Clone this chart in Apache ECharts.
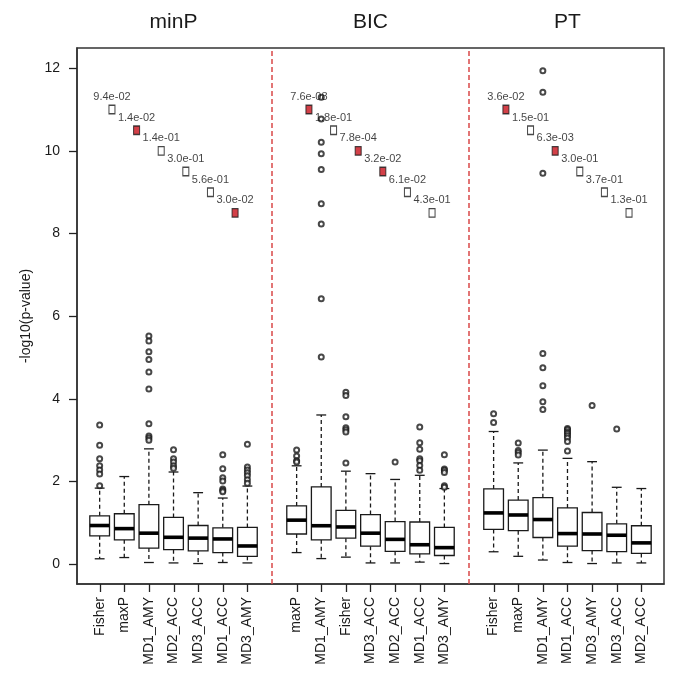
<!DOCTYPE html>
<html>
<head>
<meta charset="utf-8">
<script src="https://cdn.jsdelivr.net/npm/echarts@6/dist/echarts.min.js"></script>
<style>
html,body{margin:0;padding:0;background:#fff;}
#chart{width:685px;height:687px;}
</style>
</head>
<body>
<div id="chart"></div>
<script>
// ---- data ----
const panelTitles = ["minP", "BIC", "PT"];

const minP_labels = ["Fisher", "maxP", "MD1_AMY", "MD2_ACC", "MD3_ACC", "MD1_ACC", "MD3_AMY"];
// [lowerWhisker, Q1, median, Q3, upperWhisker]
const minP_stats = [
  [0.13, 0.685, 0.935, 1.17, 1.84],
  [0.16, 0.59, 0.86, 1.22, 2.12],
  [0.04, 0.39, 0.75, 1.44, 2.79],
  [0.03, 0.35, 0.65, 1.13, 2.23],
  [0.015, 0.32, 0.63, 0.935, 1.73],
  [0.04, 0.28, 0.61, 0.88, 1.60],
  [0.03, 0.19, 0.44, 0.89, 1.89]
];
const minP_outliers = [
  [3.37, 2.88, 2.55, 2.38, 2.28, 2.18, 1.90],
  [],
  [5.52, 5.40, 5.14, 4.95, 4.65, 4.24, 3.40, 3.10, 3.05, 3.00],
  [2.77, 2.55, 2.47, 2.38, 2.32],
  [],
  [2.65, 2.31, 2.09, 2.01, 1.82, 1.78, 1.75],
  [2.90, 2.35, 2.28, 2.21, 2.14, 2.04, 1.96]
];
const minP_pvals = ["9.4e-02", "1.4e-02", "1.4e-01", "3.0e-01", "5.6e-01", "3.0e-02"];

const BIC_labels = ["maxP", "MD1_AMY", "Fisher", "MD3_ACC", "MD2_ACC", "MD1_ACC", "MD3_AMY"];
const BIC_stats = [
  [0.28, 0.73, 1.065, 1.41, 2.38],
  [0.135, 0.59, 0.93, 1.87, 3.61],
  [0.17, 0.63, 0.90, 1.30, 2.25],
  [0.03, 0.435, 0.75, 1.20, 2.19],
  [0.03, 0.31, 0.60, 1.03, 2.05],
  [0.05, 0.25, 0.47, 1.02, 2.15],
  [0.015, 0.21, 0.40, 0.89, 1.83]
];
const BIC_outliers = [
  [2.76, 2.62, 2.50, 2.47],
  [11.3, 10.77, 10.21, 9.93, 9.55, 8.72, 8.23, 6.42, 5.01],
  [4.16, 4.08, 3.57, 3.30, 3.25, 3.20, 2.45],
  [],
  [2.47],
  [3.32, 2.94, 2.78, 2.55, 2.50, 2.39, 2.27],
  [2.65, 2.30, 2.27, 2.22, 1.90, 1.86]
];
const BIC_pvals = ["7.6e-08", "1.8e-01", "7.8e-04", "3.2e-02", "6.1e-02", "4.3e-01"];

const PT_labels = ["Fisher", "maxP", "MD1_AMY", "MD1_ACC", "MD3_AMY", "MD3_ACC", "MD2_ACC"];
const PT_stats = [
  [0.30, 0.84, 1.24, 1.82, 3.21],
  [0.19, 0.81, 1.19, 1.55, 2.45],
  [0.10, 0.645, 1.08, 1.61, 2.76],
  [0.04, 0.435, 0.74, 1.36, 2.56],
  [0.015, 0.33, 0.73, 1.25, 2.48],
  [0.03, 0.305, 0.70, 0.975, 1.86],
  [0.03, 0.26, 0.515, 0.93, 1.83]
];
const PT_outliers = [
  [3.64, 3.43],
  [2.93, 2.75, 2.70, 2.64],
  [11.94, 11.42, 9.46, 5.10, 4.75, 4.32, 3.93, 3.74],
  [3.28, 3.25, 3.20, 3.16, 3.11, 3.05, 2.97, 2.74],
  [3.84],
  [3.27],
  []
];
const PT_pvals = ["3.6e-02", "1.5e-01", "6.3e-03", "3.0e-01", "3.7e-01", "1.3e-01"];

// heights at which the comparison markers are drawn
const markerY = [11, 10.5, 10, 9.5, 9, 8.5];
const yTicks = [0, 2, 4, 6, 8, 10, 12];

// ---- build ----
const Y_MIN = -0.48, Y_MAX = 12.49;
const panels = [
  {labels: minP_labels, stats: minP_stats, outliers: minP_outliers, pvals: minP_pvals},
  {labels: BIC_labels, stats: BIC_stats, outliers: BIC_outliers, pvals: BIC_pvals},
  {labels: PT_labels, stats: PT_stats, outliers: PT_outliers, pvals: PT_pvals}
];
const FONT = "'Liberation Sans', Arial, Helvetica, sans-serif";
const INK = '#1a1a1a';

const boxData = [], outlierData = [], markerData = [], tickPos = [], labelMap = {};
const separators = [];
const groupCenters = [];
panels.forEach((p, g) => {
  const base = g * 8;
  p.labels.forEach((lab, i) => {
    const x = base + i + 1;
    tickPos.push(x);
    labelMap[x] = lab;
    boxData.push([x].concat(p.stats[i]));
    p.outliers[i].forEach(v => outlierData.push([x, v]));
  });
  p.pvals.forEach((pv, i) => {
    const sig = parseFloat(pv) < 0.05;
    markerData.push({
      value: [base + i + 1.5, markerY[i]],
      name: pv,
      itemStyle: {color: sig ? '#c8101a' : '#ffffff'}
    });
  });
  groupCenters.push(base + 4);
  if (g > 0) separators.push({xAxis: base});
});

function renderBox(params, api) {
  const x = api.value(0);
  const lo = api.coord([x, api.value(1)]);
  const q1 = api.coord([x, api.value(2)]);
  const md = api.coord([x, api.value(3)]);
  const q3 = api.coord([x, api.value(4)]);
  const hi = api.coord([x, api.value(5)]);
  const w = api.size([0.8, 0])[0];
  const hw = w / 2, cw = w / 4;
  const cx = lo[0];
  const solid = {stroke: INK, lineWidth: 1.3};
  const dashed = {stroke: INK, lineWidth: 1.3, lineDash: [4, 3]};
  return {
    type: 'group',
    children: [
      {type: 'line', shape: {x1: cx, y1: q3[1], x2: cx, y2: hi[1]}, style: dashed},
      {type: 'line', shape: {x1: cx, y1: q1[1], x2: cx, y2: lo[1]}, style: dashed},
      {type: 'line', shape: {x1: cx - cw, y1: hi[1], x2: cx + cw, y2: hi[1]}, style: solid},
      {type: 'line', shape: {x1: cx - cw, y1: lo[1], x2: cx + cw, y2: lo[1]}, style: solid},
      {type: 'rect', shape: {x: cx - hw, y: q3[1], width: w, height: q1[1] - q3[1]},
        style: {fill: '#fff', stroke: INK, lineWidth: 1.3}},
      {type: 'line', shape: {x1: cx - hw, y1: md[1], x2: cx + hw, y2: md[1]},
        style: {stroke: '#000', lineWidth: 3.6}}
    ]
  };
}

const chart = echarts.init(document.getElementById('chart'), null, {renderer: 'canvas'});
chart.setOption({
  backgroundColor: '#fff',
  animation: false,
  textStyle: {fontFamily: FONT},
  grid: {left: 77, right: 21, top: 48, bottom: 103, show: true,
    borderColor: '#333', borderWidth: 1.5, backgroundColor: 'transparent'},
  xAxis: {
    type: 'value', min: 0.08, max: 23.92, position: 'bottom',
    axisLine: {show: true, onZero: false, lineStyle: {color: '#333', width: 1.5}},
    splitLine: {show: false},
    axisTick: {show: false},
    axisLabel: {show: true, customValues: tickPos, rotate: 90, margin: 13,
      fontSize: 14, color: INK, fontFamily: FONT,
      formatter: v => labelMap[Math.round(v)] || ''}
  },
  yAxis: {
    type: 'value', min: Y_MIN, max: Y_MAX,
    name: '-log10(p-value)', nameLocation: 'middle', nameRotate: 90, nameGap: 39,
    nameTextStyle: {fontSize: 14, color: INK, fontFamily: FONT},
    axisLine: {show: true, onZero: false, lineStyle: {color: '#333', width: 1.5}},
    splitLine: {show: false},
    axisTick: {show: true, customValues: yTicks, length: 8, lineStyle: {color: '#222', width: 1.3}},
    axisLabel: {show: true, customValues: yTicks, margin: 17, fontSize: 14, color: INK, fontFamily: FONT}
  },
  series: [
    {
      type: 'custom',
      renderItem: renderBox,
      data: boxData,
      encode: {x: 0, y: [1, 2, 3, 4, 5]},
      z: 2,
      markLine: {
        silent: true, symbol: ['none', 'none'], label: {show: false},
        lineStyle: {color: '#d94848', type: [5, 3], width: 1.5},
        data: separators
      }
    },
    {
      type: 'scatter',
      data: outlierData,
      symbol: 'emptyCircle',
      symbolSize: 5,
      itemStyle: {color: INK, borderColor: INK, borderWidth: 0.9},
      z: 3
    },
    {
      type: 'scatter',
      data: markerData,
      symbol: 'rect',
      symbolSize: [6, 8.5],
      itemStyle: {borderColor: INK, borderWidth: 1.2},
      label: {show: true, position: 'top', distance: 2, fontSize: 11, color: '#111',
        fontFamily: FONT, formatter: p => p.name},
      z: 4
    }
  ]
});

// titles and x tick marks placed through the axis scales
const bottomY = chart.convertToPixel({yAxisIndex: 0}, Y_MIN);
const graphics = panelTitles.map((t, i) => {
  const px = chart.convertToPixel({xAxisIndex: 0}, groupCenters[i]);
  return {type: 'text', x: px, y: 22,
    style: {text: t, fontSize: 21, fill: INK, fontFamily: FONT, textAlign: 'center', textVerticalAlign: 'middle'}};
});
tickPos.forEach(x => {
  const px = Math.round(chart.convertToPixel({xAxisIndex: 0}, x)) + 0.5;
  graphics.push({type: 'line', silent: true, z: 10,
    shape: {x1: px, y1: bottomY, x2: px, y2: bottomY + 8},
    style: {stroke: '#222', lineWidth: 1.3}});
});
chart.setOption({graphic: graphics});
</script>
</body>
</html>
